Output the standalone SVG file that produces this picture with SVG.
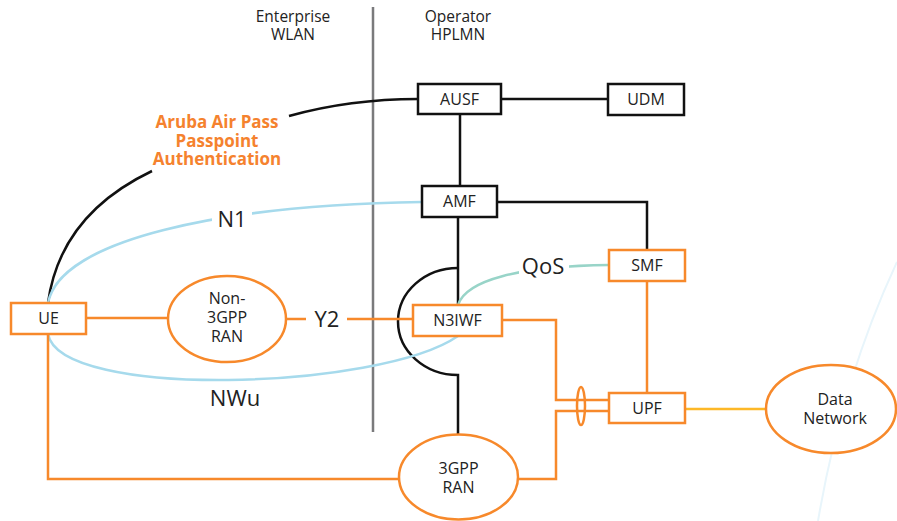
<svg xmlns="http://www.w3.org/2000/svg" width="897" height="521" viewBox="0 0 897 521">
<style>
text{font-family:"Open Sans","Noto Sans","DejaVu Sans",sans-serif;fill:#222;text-anchor:middle}
.lbl{font-size:16px}
.big{font-size:22px}
.hdr{font-size:15.5px}
.auth{font-size:17px;font-weight:bold;fill:#F5822E}
.bk{fill:#fff;stroke:#111;stroke-width:2.5}
.or{fill:#fff;stroke:#F7892B;stroke-width:2.5}
.cb{fill:none;stroke:#111;stroke-width:2.5}
.co{fill:none;stroke:#F7892B;stroke-width:2.5}
.cl{fill:none;stroke:#A6DAEC;stroke-width:2.5}
.ct{fill:none;stroke:#98D4C8;stroke-width:2.5}
.cy{fill:none;stroke:#FDB827;stroke-width:2.5}
.wb{fill:#fff}
</style>
<rect width="897" height="521" fill="#fff"/>
<path d="M897 262 Q 842 380 818 521" fill="none" stroke="#E8F5FB" stroke-width="2"/>
<line x1="373" y1="7" x2="373" y2="432" stroke="#7A7A7C" stroke-width="2.5"/>
<g id="headers">
<text class="hdr" x="293" y="22">Enterprise</text>
<text class="hdr" x="293" y="40">WLAN</text>
<text class="hdr" x="458" y="22">Operator</text>
<text class="hdr" x="458" y="40">HPLMN</text>
</g>
<g id="connectors">
<path class="cb" d="M289 116 Q 350 99 418 99"/>
<path class="cb" d="M152 171 Q 60 215 48 303"/>
<line class="cb" x1="501" y1="99" x2="608" y2="99"/>
<line class="cb" x1="460" y1="114" x2="460" y2="186"/>
<polyline class="cb" points="497,202 647,202 647,250"/>
<line class="cb" x1="458" y1="217" x2="458" y2="305"/>
<path class="cb" d="M458 268 A 60 53.5 0 0 0 458 375 L 458 434"/>
<path class="cl" d="M48 303 C 60 240 220 205 422 202"/>
<path class="cl" d="M48 334 C 60 400 380 390 458 336"/>
<path class="ct" d="M458 305 C 466 280 520 266 609 265"/>
<line class="co" x1="86" y1="318" x2="168" y2="318"/>
<line class="co" x1="286" y1="319" x2="413" y2="319"/>
<line class="co" x1="647" y1="281" x2="647" y2="393"/>
<polyline class="co" points="502,320 556,320 556,400 609,400"/>
<polyline class="co" points="518,479 556,479 556,411 609,411"/>
<ellipse class="co" cx="581" cy="406" rx="4" ry="19"/>
<polyline class="co" points="48,334 48,479 399,479"/>
<line class="cy" x1="685" y1="409" x2="766" y2="409"/>
</g>
<g id="labels">
<rect class="wb" x="212" y="205" width="40" height="26"/>
<text class="big" x="232" y="227">N1</text>
<rect class="wb" x="306" y="305" width="41" height="26"/>
<text class="big" x="327" y="327">Y2</text>
<rect class="wb" x="519" y="255" width="50" height="26"/>
<text class="big" x="543" y="274">QoS</text>
<text class="big" x="235" y="406">NWu</text>
</g>
<g id="auth">
<text class="auth" x="217" y="128">Aruba Air Pass</text>
<text class="auth" x="217" y="147">Passpoint</text>
<text class="auth" x="217" y="165">Authentication</text>
</g>
<g id="AUSF"><rect class="bk" x="418" y="84" width="83" height="30"/><text class="lbl" x="459.5" y="105">AUSF</text></g>
<g id="UDM"><rect class="bk" x="608" y="84" width="76" height="31"/><text class="lbl" x="646" y="105">UDM</text></g>
<g id="AMF"><rect class="bk" x="422" y="186" width="75" height="31"/><text class="lbl" x="459.5" y="207">AMF</text></g>
<g id="SMF"><rect class="or" x="609" y="250" width="76" height="31"/><text class="lbl" x="647" y="271">SMF</text></g>
<g id="N3IWF"><rect class="or" x="413" y="305" width="89" height="31"/><text class="lbl" x="457.5" y="326">N3IWF</text></g>
<g id="UPF"><rect class="or" x="609" y="393" width="76" height="30"/><text class="lbl" x="647" y="414">UPF</text></g>
<g id="UE"><rect class="or" x="11" y="303" width="75" height="31"/><text class="lbl" x="48.5" y="324">UE</text></g>
<g id="Non3GPPRAN"><ellipse class="or" cx="227" cy="319" rx="59" ry="43"/>
<text class="lbl" x="227" y="304">Non-</text><text class="lbl" x="227" y="323">3GPP</text><text class="lbl" x="227" y="342">RAN</text></g>
<g id="GPPRAN"><ellipse class="or" cx="458.5" cy="477" rx="59.5" ry="42.5"/>
<text class="lbl" x="458.5" y="474">3GPP</text><text class="lbl" x="458.5" y="493">RAN</text></g>
<g id="DataNetwork"><ellipse class="or" cx="831" cy="409" rx="65" ry="44"/>
<text class="lbl" x="835" y="405">Data</text><text class="lbl" x="835" y="424">Network</text></g>
</svg>
